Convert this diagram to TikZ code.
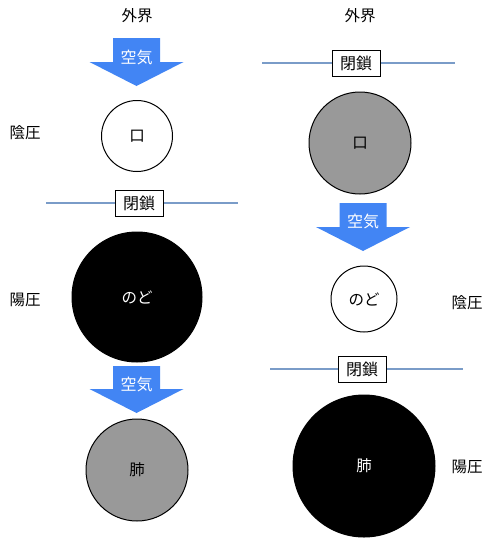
\documentclass[tikz,border=0pt]{standalone}
\usepackage{fontspec}
\setmainfont{Noto Sans CJK JP}
\usetikzlibrary{positioning}

\begin{document}
\begin{tikzpicture}[
		x=1pt, y=-1pt,
		font=\fontsize{15.5}{18}\selectfont,
		organ/.style = {draw, circle, line width=1pt, inner sep=0pt},
		seal/.style = {draw=black, fill=white, line width=1pt, minimum width=48pt, minimum height=26pt, inner sep=0pt, font=\fontsize{16}{18}\selectfont},
		wall/.style = {draw={rgb,255:red,122;green,156;blue,200}, line width=1.2pt},
		air/.style = {fill={rgb,255:red,66;green,133;blue,244}},
		airtext/.style = {text=white, font=\fontsize{16}{18}\selectfont}
	]
	\useasboundingbox (0,0) rectangle (495,538);
	% Left side.
	\node (outL) at (137,16) {外界};
	\coordinate (a1) at (136.5,38);
	\fill[air] (a1) ++(-23.5,0) -- ++(47,0) -- ++(0,24) -- ++(23.5,0) -- ++(-47,24) -- ++(-47,-24) -- ++(23.5,0) -- cycle;
	\node[airtext] (t1) at (136.5,57) {空気};
	\node[organ, fill=white, minimum size=71pt] (mouthL) at (137,136) {口};
	\node (negL) at (25,133) {陰圧};
	\coordinate (w1a) at (46,203);
	\coordinate (w1b) at (238,203);
	\draw[wall] (w1a) -- (w1b);
	\node[seal] (s1) at (139,203) {閉鎖};
	\node[organ, fill=black, minimum size=130pt, text=white] (throatL) at (137,297) {のど};
	\node (posL) at (25,300) {陽圧};
	\coordinate (a2) at (136.5,366);
	\fill[air] (a2) ++(-23.5,0) -- ++(47,0) -- ++(0,23) -- ++(23.5,0) -- ++(-47,24) -- ++(-47,-24) -- ++(23.5,0) -- cycle;
	\node[airtext] (t2) at (136.5,384) {空気};
	\node[organ, fill={rgb,255:red,153;green,153;blue,153}, minimum size=102pt] (lungL) at (137,470) {肺};
	% Right side.
	\node (outR) at (360,16) {外界};
	\coordinate (w2a) at (262,63);
	\coordinate (w2b) at (455,63);
	\draw[wall] (w2a) -- (w2b);
	\node[seal] (s2) at (356,63) {閉鎖};
	\node[organ, fill={rgb,255:red,153;green,153;blue,153}, minimum size=102pt] (mouthR) at (360,143) {口};
	\coordinate (a3) at (363,203);
	\fill[air] (a3) ++(-23.5,0) -- ++(47,0) -- ++(0,24) -- ++(23.5,0) -- ++(-47,24) -- ++(-47,-24) -- ++(23.5,0) -- cycle;
	\node[airtext] (t3) at (363,221) {空気};
	\node[organ, fill=white, minimum size=66pt] (throatR) at (364,299) {のど};
	\node (negR) at (467,303) {陰圧};
	\coordinate (w3a) at (270,369);
	\coordinate (w3b) at (463,369);
	\draw[wall] (w3a) -- (w3b);
	\node[seal] (s3) at (362,369) {閉鎖};
	\node[organ, fill=black, minimum size=142pt, text=white] (lungR) at (364,466) {肺};
	\node (posR) at (467,467) {陽圧};
\end{tikzpicture}
\end{document}
